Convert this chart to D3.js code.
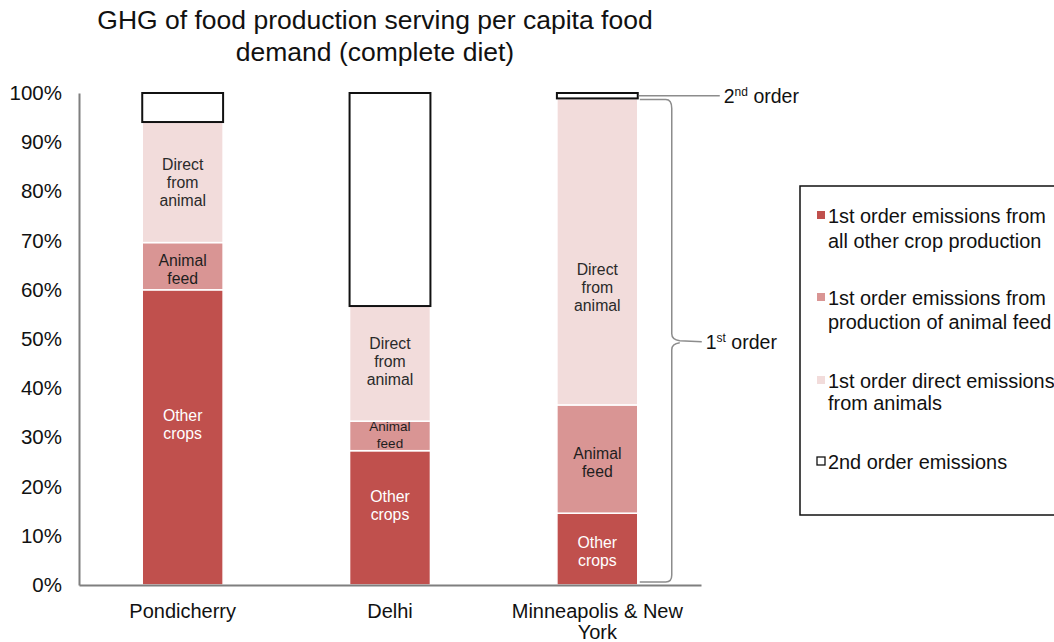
<!DOCTYPE html>
<html>
<head>
<meta charset="utf-8">
<script src="https://cdn.jsdelivr.net/npm/d3@7"></script>
<style>
  html, body { margin: 0; padding: 0; background: #fff; }
  svg { display: block; font-family: "Liberation Sans", Arial, sans-serif; }
</style>
</head>
<body>
<svg id="chart" width="1054" height="642"></svg>
<script>
// Share of per-capita diet GHG emissions by source (percent of total)
const categories = ["Pondicherry", "Delhi", "Minneapolis & New York"];
const otherCrops   = [60.0, 27.3, 14.6];
const animalFeed   = [9.6, 6.0, 22.0];
const directAnimal = [24.5, 23.4, 62.3];
const secondOrder  = [5.9, 43.3, 1.1];
const yTicks = [0, 10, 20, 30, 40, 50, 60, 70, 80, 90, 100];

// where the in-bar labels sit, in percent of the axis
const otherLabelAt  = [32.7, 16.1, 6.9];
const feedLabelAt   = [64.2, 30.5, 25.0];
const directLabelAt = [81.9, 45.5, 60.4];

const series = [
  { key: "other",  name: ["1st order emissions from", "all other crop production"], values: otherCrops,   fill: "#c0504d", label: ["Other", "crops"], labelAt: otherLabelAt, text: "#ffffff" },
  { key: "feed",   name: ["1st order emissions from", "production of animal feed"], values: animalFeed,   fill: "#d99594", label: ["Animal", "feed"], labelAt: feedLabelAt, text: "#1e1e1e" },
  { key: "direct", name: ["1st order direct emissions", "from animals"],            values: directAnimal, fill: "#f2dcdb", label: ["Direct", "from", "animal"], labelAt: directLabelAt, text: "#2a2a2a" },
  { key: "second", name: ["2nd order emissions"],                                   values: secondOrder,  fill: "#ffffff", label: null }
];

const svg = d3.select("#chart");
const margin = { left: 79, right: 353, top: 93, bottom: 57 };
const width = 1054, height = 642;

const x = d3.scaleBand().domain(categories).range([margin.left, width - margin.right]).paddingInner(0.61).paddingOuter(0.305);
const y = d3.scaleLinear().domain([0, 100]).range([height - margin.bottom, margin.top]);

// Title
const title = svg.append("text").attr("x", 375).attr("text-anchor", "middle")
  .attr("font-size", 26.5).attr("fill", "#111");
title.append("tspan").attr("x", 375).attr("y", 29).text("GHG of food production serving per capita food");
title.append("tspan").attr("x", 375).attr("y", 61).text("demand (complete diet)");

// Stacked segments
const stacked = categories.map((c, i) => {
  let base = 0;
  return series.map(s => {
    const seg = { cat: c, i, s, y0: base, y1: base + s.values[i] };
    base += s.values[i];
    return seg;
  });
});

const bars = svg.append("g");
stacked.forEach(segs => {
  segs.forEach(seg => {
    const top = seg.s.key === "second" ? 100 : seg.y1;
    const r = bars.append("rect")
      .attr("x", x(seg.cat))
      .attr("width", x.bandwidth())
      .attr("y", y(top))
      .attr("height", y(seg.y0) - y(top))
      .attr("fill", seg.s.fill);
    if (seg.s.key === "second") {
      r.attr("stroke", "#111").attr("stroke-width", 2);
    } else {
      r.attr("stroke", "#ffffff").attr("stroke-width", 1.5);
    }
  });
});

// In-bar labels
stacked.forEach(segs => {
  segs.forEach(seg => {
    if (!seg.s.label) return;
    const small = seg.s.key === "feed" && seg.i === 1;
    const fs = small ? 13.5 : 15.8;
    const lh = small ? 16.5 : 18;
    const lines = seg.s.label;
    const cy = y(seg.s.labelAt[seg.i]);
    const t = bars.append("text")
      .attr("text-anchor", "middle")
      .attr("font-size", fs)
      .attr("fill", seg.s.text);
    lines.forEach((ln, k) => {
      t.append("tspan")
        .attr("x", x(seg.cat) + x.bandwidth() / 2)
        .attr("y", cy + (k - (lines.length - 1) / 2) * lh + fs * 0.35)
        .text(ln);
    });
  });
});

// Y axis
const yAxis = svg.append("g").attr("transform", `translate(${margin.left},0)`)
  .call(d3.axisLeft(y).tickValues(yTicks).tickSize(0).tickPadding(17).tickFormat(d => d + "%"));
yAxis.select(".domain").attr("stroke", "#7f7f7f").attr("stroke-width", 2);
yAxis.selectAll("text").attr("font-size", 20.5).attr("fill", "#111").attr("font-family", "Liberation Sans, Arial, sans-serif");

// X axis
const xAxis = svg.append("g").attr("transform", `translate(0,${y(0)})`)
  .call(d3.axisBottom(x).tickSize(0).tickPadding(0));
xAxis.select(".domain").attr("stroke", "#7f7f7f").attr("stroke-width", 2);
xAxis.selectAll(".tick text").remove();
xAxis.selectAll(".tick").each(function(d) {
  const t = d3.select(this).append("text")
    .attr("text-anchor", "middle").attr("font-size", 20).attr("fill", "#111")
    .attr("font-family", "Liberation Sans, Arial, sans-serif");
  const parts = d === "Minneapolis & New York" ? ["Minneapolis & New", "York"] : [d];
  parts.forEach((p, k) => t.append("tspan").attr("x", 0).attr("y", 33 + k * 21).text(p));
});

// Brace and callouts on the last bar
const last = categories.length - 1;
const lastCat = categories[last];
const bx = x(lastCat) + x.bandwidth();
const firstTop = otherCrops[last] + animalFeed[last] + directAnimal[last];
const yTop = y(firstTop), yBot = y(0), yMid = (yTop + yBot) / 2;
const xs = bx + 2, xv = bx + 34, xt = bx + 64;
const brace = d3.path();
brace.moveTo(xs, yTop + 1);
brace.lineTo(xv - 6, yTop + 1);
brace.quadraticCurveTo(xv, yTop + 1, xv, yTop + 10);
brace.lineTo(xv, yMid - 8);
brace.quadraticCurveTo(xv, yMid - 2, xv + 8, yMid - 1);
brace.lineTo(xt, yMid);
brace.moveTo(xv + 8, yMid + 1);
brace.quadraticCurveTo(xv, yMid + 2, xv, yMid + 8);
brace.lineTo(xv, yBot - 10);
brace.quadraticCurveTo(xv, yBot - 3, xv - 6, yBot - 3);
brace.lineTo(xs, yBot - 3);
svg.append("path").attr("d", brace.toString()).attr("fill", "none")
  .attr("stroke", "#8c8c8c").attr("stroke-width", 1.5);

const y2 = y((firstTop + 100) / 2);
svg.append("line").attr("x1", bx + 1).attr("x2", bx + 82).attr("y1", y2).attr("y2", y2)
  .attr("stroke", "#8c8c8c").attr("stroke-width", 1.5);

function orderLabel(xp, yp, num, sup) {
  const t = svg.append("text").attr("x", xp).attr("y", yp + 7).attr("font-size", 19.5).attr("fill", "#111");
  t.append("tspan").text(num);
  t.append("tspan").attr("font-size", 12).attr("dy", -7).text(sup);
  t.append("tspan").attr("dy", 7).text(" order");
}
orderLabel(bx + 86, y2, "2", "nd");
orderLabel(xt + 4, yMid, "1", "st");

// Legend
const lg = svg.append("g");
lg.append("rect").attr("x", 800).attr("y", 186).attr("width", 280).attr("height", 329)
  .attr("fill", "#fff").attr("stroke", "#111").attr("stroke-width", 1.5);
const legendY = [216, 298, 381, 462];
const lineGap = [25, 24, 22, 0];
series.forEach((s, i) => {
  const ly = legendY[i];
  const m = lg.append("rect").attr("x", 817).attr("y", ly - 5).attr("width", 8).attr("height", 8).attr("fill", s.fill);
  if (s.key === "second") m.attr("stroke", "#111").attr("stroke-width", 1.3);
  const t = lg.append("text").attr("font-size", 19.9).attr("fill", "#111");
  s.name.forEach((ln, k) => t.append("tspan").attr("x", 828).attr("y", ly + 7 + k * lineGap[i]).text(ln));
});
</script>
</body>
</html>
